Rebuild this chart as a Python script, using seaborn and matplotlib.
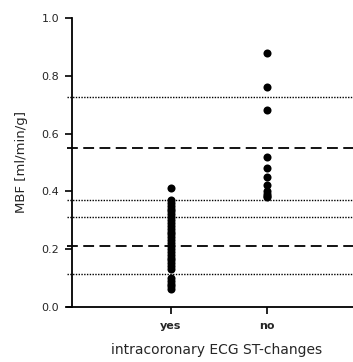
import numpy as np
import pandas as pd
import matplotlib
matplotlib.use('Agg')
import matplotlib.pyplot as plt
import seaborn as sns

# Data
groups = ['yes', 'no']
mbf_yes = [0.41, 0.37, 0.36, 0.35, 0.34, 0.33, 0.32, 0.31, 0.30, 0.29, 0.28, 0.27,
           0.26, 0.25, 0.24, 0.23, 0.22, 0.21, 0.20, 0.19, 0.18, 0.17, 0.16, 0.15,
           0.14, 0.13, 0.10, 0.09, 0.08, 0.07, 0.06]
mbf_no = [0.88, 0.76, 0.68, 0.52, 0.48, 0.45, 0.42, 0.40, 0.39, 0.385, 0.38]
group_mean = [0.21, 0.55]
group_sd_low = [0.112, 0.369]
group_sd_high = [0.311, 0.727]

df = pd.DataFrame({
    'group': ['yes'] * len(mbf_yes) + ['no'] * len(mbf_no),
    'mbf': mbf_yes + mbf_no,
})

sns.set_style('white')
plt.rcParams['font.family'] = ['DejaVu Sans']

fig = plt.figure(figsize=(3.53, 3.62), dpi=100)
ax = fig.add_axes([0.189, 0.153, 0.811, 0.797])

# mean (dashed) and +/- SD (dotted) lines across the whole plot
for m, lo, hi in zip(group_mean, group_sd_low, group_sd_high):
    ax.axhline(m, color='black', lw=1.3, linestyle=(0, (6, 3)), zorder=1)
    ax.axhline(lo, color='black', lw=1.0, linestyle=(0, (1, 1)), zorder=1)
    ax.axhline(hi, color='black', lw=1.0, linestyle=(0, (1, 1)), zorder=1)

sns.stripplot(data=df, x='group', y='mbf', order=groups, jitter=False,
              color='black', size=5.8, ax=ax, zorder=3)

ax.set_xlim(-1.086, 1.896)
ax.set_ylim(0, 1.0)
ax.set_yticks([0.0, 0.2, 0.4, 0.6, 0.8, 1.0])
ax.set_yticklabels(['0.0', '0.2', '0.4', '0.6', '0.8', '1.0'], fontweight='bold')
ax.set_xticks(range(len(groups)))
ax.set_xticklabels(groups, fontweight='bold')

for s in ['top', 'right']:
    ax.spines[s].set_visible(False)
ax.spines['left'].set_position(('axes', 0.0175))
ax.spines['left'].set_linewidth(1.3)
ax.spines['bottom'].set_linewidth(1.3)
ax.spines['left'].set_color('black')
ax.spines['bottom'].set_color('black')

ax.tick_params(axis='both', direction='out', length=5, width=1.2, color='black',
               labelsize=8, left=True, bottom=True)
ax.tick_params(axis='y', pad=4)
ax.tick_params(axis='x', pad=5)

ax.set_ylabel('MBF [ml/min/g]', fontsize=9.5)
ax.yaxis.set_label_coords(-0.135, 0.5)
ax.set_xlabel('intracoronary ECG ST-changes', fontsize=10)
ax.xaxis.set_label_coords(0.525, -0.125)

fig.savefig('out.png', dpi=100)
